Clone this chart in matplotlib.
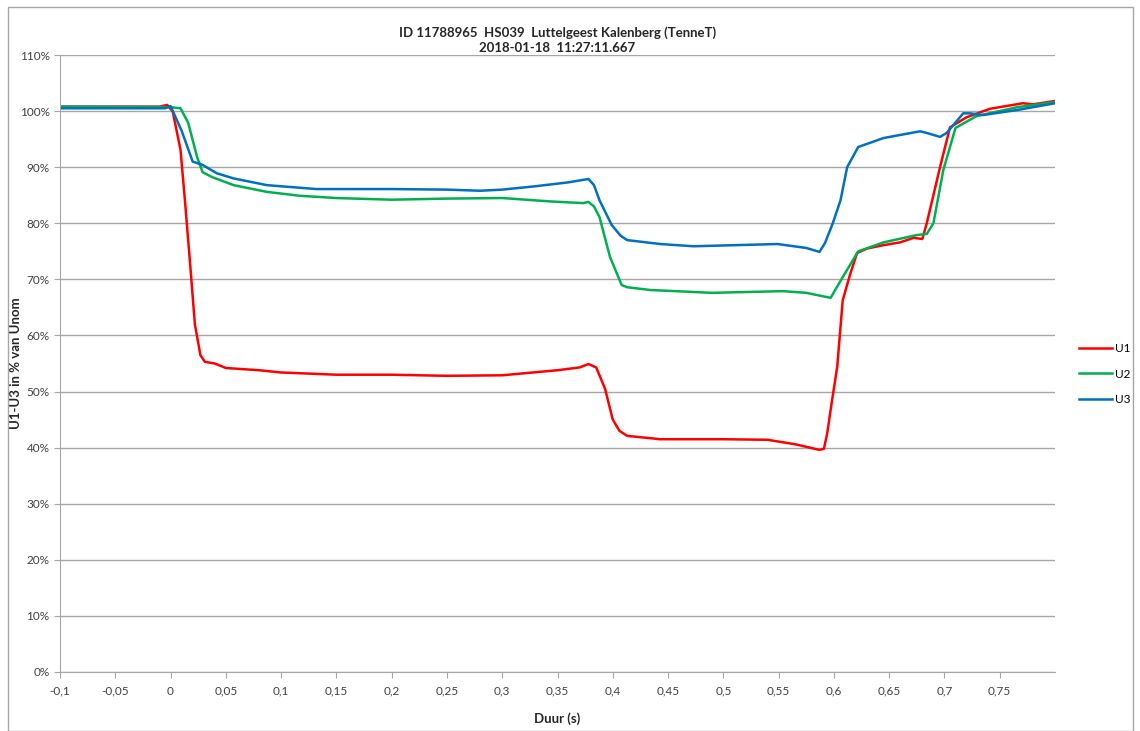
import matplotlib.pyplot as plt
from matplotlib.ticker import FuncFormatter, MultipleLocator
from matplotlib.patches import Rectangle

plt.rcParams['font.family'] = ['Lato', 'DejaVu Sans']

# time (s) and voltage (% of Unom)
t_u1 = [-0.1, -0.01, -0.003, 0.002, 0.009, 0.013, 0.018, 0.022, 0.027, 0.031, 0.04,
        0.05, 0.08, 0.1, 0.15, 0.2, 0.25, 0.3, 0.35, 0.37, 0.378, 0.385, 0.393,
        0.40, 0.406, 0.413, 0.443, 0.5, 0.54, 0.565, 0.587, 0.591, 0.594, 0.598,
        0.603, 0.608, 0.615, 0.621, 0.63, 0.645, 0.66, 0.672, 0.68, 0.684, 0.69,
        0.696, 0.705, 0.72, 0.741, 0.771, 0.78, 0.8]
u1 = [100.8, 100.8, 101.1, 99.9, 93.1, 84.1, 72.0, 62.0, 56.5, 55.3, 55.0,
      54.2, 53.8, 53.4, 53.0, 53.0, 52.8, 52.9, 53.8, 54.3, 54.9, 54.3, 50.5,
      45.0, 43.0, 42.1, 41.5, 41.5, 41.4, 40.6, 39.6, 39.8, 42.6, 48.0,
      54.4, 66.3, 71.1, 74.7, 75.5, 76.1, 76.6, 77.4, 77.2, 80.0, 85.0,
      90.0, 97.1, 98.9, 100.4, 101.4, 101.2, 101.8]

t_u2 = [-0.1, 0.0, 0.009, 0.016, 0.024, 0.029, 0.038, 0.057, 0.087, 0.117, 0.15,
        0.2, 0.25, 0.3, 0.343, 0.373, 0.378, 0.383, 0.388, 0.3975, 0.408, 0.413,
        0.434, 0.49, 0.554, 0.575, 0.597, 0.608, 0.622, 0.645, 0.675, 0.684, 0.69,
        0.699, 0.71, 0.729, 0.766, 0.8]
u2 = [100.8, 100.7, 100.5, 97.9, 91.8, 89.1, 88.2, 86.8, 85.6, 84.9, 84.5,
      84.2, 84.4, 84.5, 83.9, 83.6, 83.8, 83.0, 81.1, 74.0, 69.0, 68.6,
      68.1, 67.6, 67.9, 67.6, 66.7, 70.4, 75.0, 76.6, 77.9, 78.1, 80.0,
      89.5, 97.0, 99.1, 100.7, 101.6]

t_u3 = [-0.1, -0.005, 0.0, 0.01, 0.02, 0.029, 0.042, 0.057, 0.087, 0.132, 0.2,
        0.25, 0.28, 0.3, 0.33, 0.36, 0.375, 0.378, 0.383, 0.388, 0.399, 0.407,
        0.413, 0.443, 0.473, 0.549, 0.575, 0.587, 0.592, 0.599, 0.606, 0.612,
        0.622, 0.645, 0.678, 0.684, 0.696, 0.702, 0.717, 0.723, 0.735, 0.766, 0.8]
u3 = [100.5, 100.5, 100.9, 96.5, 91.0, 90.4, 88.9, 88.0, 86.8, 86.1, 86.1,
      86.0, 85.8, 86.0, 86.6, 87.3, 87.8, 87.9, 86.8, 84.1, 79.7, 77.8,
      77.0, 76.3, 75.9, 76.3, 75.6, 74.9, 76.5, 80.0, 84.1, 90.0,
      93.6, 95.2, 96.4, 96.1, 95.4, 96.1, 99.6, 99.6, 99.3, 100.2, 101.4]

x_ticks = [-0.1, -0.05, 0, 0.05, 0.1, 0.15, 0.2, 0.25, 0.3, 0.35, 0.4, 0.45,
           0.5, 0.55, 0.6, 0.65, 0.7, 0.75]

fig = plt.figure(figsize=(11.4, 7.31), dpi=100)
ax = fig.add_axes([60 / 1140, 59 / 731, 995 / 1140, 617 / 731])

ax.plot(t_u1, u1, color='#FF0000', lw=1.8, label='U1', solid_joinstyle='round')
ax.plot(t_u2, u2, color='#00B050', lw=1.8, label='U2', solid_joinstyle='round')
ax.plot(t_u3, u3, color='#0070C0', lw=1.8, label='U3', solid_joinstyle='round')

ax.set_xlim(-0.1, 0.8)
ax.set_ylim(0, 110)
ax.set_xticks(x_ticks)
ax.xaxis.set_major_formatter(FuncFormatter(lambda v, p: f"{round(v, 2):g}".replace('.', ',')))
ax.yaxis.set_major_locator(MultipleLocator(10))
ax.yaxis.set_major_formatter(FuncFormatter(lambda v, p: f"{v:.0f}%"))
ax.grid(axis='y', color='#A6A6A6', lw=1)
ax.set_axisbelow(True)
for s in ['top', 'right']:
    ax.spines[s].set_visible(False)
for s in ['left', 'bottom']:
    ax.spines[s].set_color('#A6A6A6')
ax.tick_params(colors='#A6A6A6', labelcolor='#404040', labelsize=8.5, length=4)
ax.tick_params(axis='x', pad=6)

ax.set_title("ID 11788965  HS039  Luttelgeest Kalenberg (TenneT)\n2018-01-18  11:27:11.667",
             fontsize=9.5, fontweight='bold', color='#262626', pad=2, linespacing=1.3)
ax.set_xlabel("Duur (s)", fontsize=9.5, fontweight='bold', color='#262626')
ax.xaxis.set_label_coords(0.5, -40 / 617)
ax.set_ylabel("U1-U3 in % van Unom", fontsize=9.5, fontweight='bold', color='#262626')
ax.yaxis.set_label_coords(-38 / 995, 0.5)

fig.legend(loc='center left', bbox_to_anchor=(1068 / 1140, 1 - 374 / 731), frameon=False,
           fontsize=8.5, handlelength=2.8, labelspacing=1.2, handletextpad=0.3)

fig.patches.append(Rectangle((8 / 1140, 0), 1125 / 1140, 724 / 731, transform=fig.transFigure,
                             fill=False, edgecolor='#A6A6A6', lw=1))

fig.savefig('out.png', dpi=100)
